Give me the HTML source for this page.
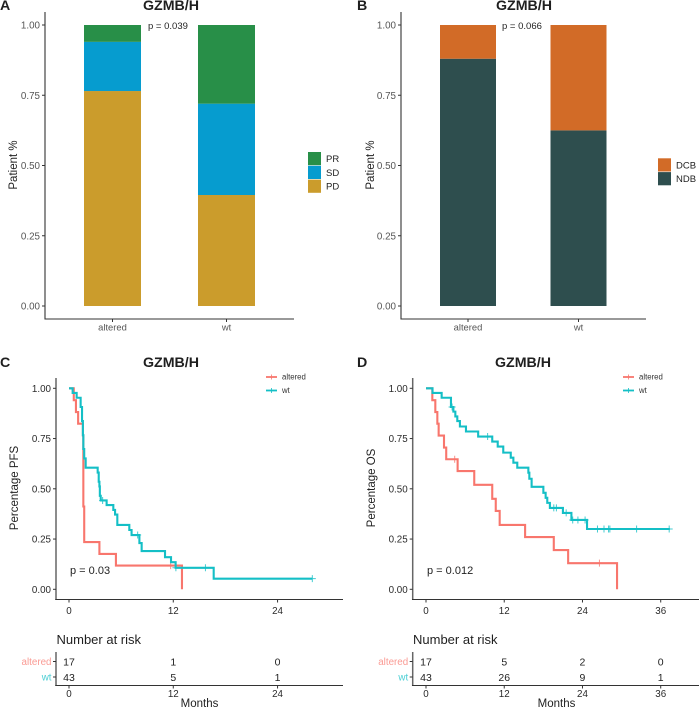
<!DOCTYPE html>
<html>
<head>
<meta charset="utf-8">
<style>
html,body{margin:0;padding:0;background:#fff;width:700px;height:709px;overflow:hidden}
svg{display:block}
text{font-family:"Liberation Sans",sans-serif}
</style>
</head>
<body>
<svg id="fig" xmlns="http://www.w3.org/2000/svg" width="700" height="709" viewBox="0 0 700 709">
  <g font-weight="bold" font-size="14.2" fill="#1f1f1f">
    <text x="0" y="10">A</text>
    <text x="357" y="10">B</text>
    <text x="0" y="367">C</text>
    <text x="357" y="367">D</text>
    <text x="171" y="10" text-anchor="middle">GZMB/H</text>
    <text x="524" y="10" text-anchor="middle">GZMB/H</text>
    <text x="171" y="367" text-anchor="middle">GZMB/H</text>
    <text x="523" y="367" text-anchor="middle">GZMB/H</text>
  </g>
  <g font-size="11.5" fill="#1f1f1f">
    <text transform="translate(17,165) rotate(-90)" text-anchor="middle">Patient %</text>
    <text transform="translate(374,165) rotate(-90)" text-anchor="middle">Patient %</text>
    <text transform="translate(18,488) rotate(-90)" text-anchor="middle">Percentage PFS</text>
    <text transform="translate(375,488) rotate(-90)" text-anchor="middle">Percentage OS</text>
    <text x="199.5" y="707" text-anchor="middle">Months</text>
    <text x="556.5" y="707" text-anchor="middle">Months</text>
  </g>
  <g fill="#1f1f1f">
    <text x="148" y="29" font-size="9.5">p = 0.039</text>
    <text x="502" y="29" font-size="9.5">p = 0.066</text>
    <text x="70" y="574" font-size="11">p = 0.03</text>
    <text x="427" y="574" font-size="11">p = 0.012</text>
    <text x="56.5" y="644" font-size="13">Number at risk</text>
    <text x="413" y="644" font-size="13">Number at risk</text>
  </g>
</svg>
<script>
/* Panel A: stacked proportions */
const aCategories = ["altered", "wt"];
const aPD = [0.765, 0.395];
const aSD = [0.175, 0.325];
const aPR = [0.06, 0.28];
/* Panel B */
const bCategories = ["altered", "wt"];
const bNDB = [0.88, 0.625];
const bDCB = [0.12, 0.375];
const barTicks = [0, 0.25, 0.5, 0.75, 1];
const survTicks = [0, 0.25, 0.5, 0.75, 1];

/* Panel C: Kaplan-Meier PFS */
const cAlteredTimes = [0.55, 0.8, 1.05, 1.6, 1.65, 1.75, 3.5, 5.4, 13];
const cAlteredSurv = [0.941, 0.882, 0.824, 0.765, 0.412, 0.235, 0.176, 0.118, 0];
const cAlteredCensor = [11.7];
const cWtTimes = [0.42, 0.88, 1.34, 1.5, 1.6, 1.65, 1.75, 1.92, 3.3, 3.42, 3.5, 3.55, 3.65, 4.33, 5.1, 5.3, 5.56, 6.94, 7.2, 8.1, 8.36, 11.05, 11.74, 12.27, 16.65, 28];
const cWtSurv = [0.977, 0.953, 0.907, 0.837, 0.767, 0.698, 0.651, 0.605, 0.581, 0.535, 0.512, 0.465, 0.442, 0.419, 0.395, 0.372, 0.32, 0.295, 0.27, 0.23, 0.19, 0.16, 0.135, 0.107, 0.053, 0.053];
const cWtCensor = [3.87, 7.9, 12.3, 15.7, 28];
const cTicks = [0, 12, 24];
const cRiskAltered = [17, 1, 0];
const cRiskWt = [43, 5, 1];

/* Panel D: Kaplan-Meier OS */
const dAlteredTimes = [0.97, 1.43, 1.74, 1.94, 2.76, 3.1, 4.85, 7.4, 10.16, 10.7, 11.3, 15.2, 19.6, 21.8, 29.3];
const dAlteredSurv = [0.941, 0.882, 0.824, 0.765, 0.705, 0.647, 0.588, 0.52, 0.45, 0.39, 0.32, 0.26, 0.195, 0.13, 0];
const dAlteredCensor = [4.4, 26.6];
const dWtTimes = [1, 2.4, 3.83, 4.2, 4.5, 4.8, 5.2, 6.13, 8, 10.16, 11, 11.85, 13, 13.4, 14, 15.7, 15.85, 16.2, 18, 18.35, 18.6, 19, 21, 22.3, 24.7, 37.4];
const dWtSurv = [0.977, 0.953, 0.907, 0.884, 0.86, 0.837, 0.81, 0.785, 0.76, 0.735, 0.71, 0.68, 0.655, 0.63, 0.605, 0.58, 0.55, 0.51, 0.48, 0.455, 0.43, 0.405, 0.38, 0.345, 0.30, 0.30];
const dWtCensor = [4, 9.45, 19.6, 20, 21.5, 22.5, 23.3, 24.4, 26.3, 27.3, 28, 28.2, 32.3, 37.3];
const dTicks = [0, 12, 24, 36];
const dRiskAltered = [17, 5, 2, 0];
const dRiskWt = [43, 26, 9, 1];

const riskGroups = ["altered", "wt"];

const svg = document.getElementById('fig');
const NS = 'http://www.w3.org/2000/svg';
const RED = '#F8766D', TEAL = '#14BFC6';
const GREEN = '#288F48', BLUE = '#069CCF', GOLD = '#CB9C2C', ORANGE = '#D26B27', SLATE = '#2E4E4E';

function mk(tag, attrs, content) {
  const el = document.createElementNS(NS, tag);
  for (const k in attrs) el.setAttribute(k, attrs[k]);
  if (content !== undefined) el.textContent = content;
  svg.appendChild(el);
  return el;
}
function name(el, n) {
  
  
  return el;
}
function line(x1, y1, x2, y2, stroke, w) {
  return mk('line', {x1: x1, y1: y1, x2: x2, y2: y2, stroke: stroke, 'stroke-width': w});
}

/* ---------- bar panels ---------- */
function barPanel(o) {
  const yS = v => 306 - 281 * v;
  const xS = i => o.x0 + o.step * i;
  const cats = o.categories;
  cats.forEach((c, i) => {
    let base = 0;
    o.series.forEach(s => {
      const v = s.values[i];
      const r = mk('rect', {x: xS(i) - o.width / 2, y: yS(base + v), width: o.width, height: yS(base) - yS(base + v), fill: s.color});
      name(r, 'bar-' + o.id + '-' + c + '-' + s.key);
      base += v;
    });
  });
  name(line(o.axisX, 12, o.axisX, 319.5, '#333', 1.1), 'y-axis-line-' + o.id);
  name(line(o.axisX, 319, o.axisR, 319, '#333', 1.1), 'x-axis-line-' + o.id);
  barTicks.forEach(t => {
    name(line(o.axisX - 3, yS(t), o.axisX, yS(t), '#333', 1), 'y-tick-' + o.id);
    const lab = mk('text', {x: o.axisX - 5, y: yS(t) + 3.5, 'text-anchor': 'end', 'font-size': 9.8, fill: '#555'}, t.toFixed(2));
    name(lab, 'y-tick-label-' + o.id);
  });
  cats.forEach((c, i) => {
    name(line(xS(i), 319, xS(i), 322, '#333', 1), 'x-tick-' + o.id);
    const lab = mk('text', {x: xS(i), y: 330.7, 'text-anchor': 'middle', 'font-size': 9.4, fill: '#555'}, c);
    name(lab, 'x-tick-label-' + o.id);
  });
  o.legend.forEach((l, i) => {
    const ly = o.legendY + i * 13.8;
    name(mk('rect', {x: o.legendX, y: ly, width: 13, height: 13.2, fill: l.color}), 'legend-swatch-' + l.key);
    name(mk('text', {x: o.legendX + 18, y: ly + 10, 'font-size': 9.5, fill: '#1f1f1f'}, l.key), 'legend-label-' + l.key);
  });
}
barPanel({
  id: 'a', categories: aCategories, x0: 112.5, step: 114, width: 57, axisX: 45, axisR: 294,
  series: [{key: 'pd', values: aPD, color: GOLD}, {key: 'sd', values: aSD, color: BLUE}, {key: 'pr', values: aPR, color: GREEN}],
  legend: [{key: 'PR', color: GREEN}, {key: 'SD', color: BLUE}, {key: 'PD', color: GOLD}],
  legendX: 308, legendY: 152
});
barPanel({
  id: 'b', categories: bCategories, x0: 468, step: 110.5, width: 56, axisX: 401, axisR: 646,
  series: [{key: 'ndb', values: bNDB, color: SLATE}, {key: 'dcb', values: bDCB, color: ORANGE}],
  legend: [{key: 'DCB', color: ORANGE}, {key: 'NDB', color: SLATE}],
  legendX: 658, legendY: 158.3
});

/* ---------- survival panels ---------- */
function stepAt(times, surv, t) {
  let s = 1;
  for (let i = 0; i < times.length; i++) { if (times[i] <= t) s = surv[i]; }
  return s;
}
function survPanel(o) {
  const xS = t => o.x0 + o.pxPerMonth * t;
  const yS = v => 589.3 - 201 * v;
  o.curves.forEach(c => {
    let d = 'M' + xS(0) + ' ' + yS(1);
    c.times.forEach((t, i) => {
      d += ' H' + xS(t).toFixed(2) + ' V' + yS(c.surv[i]).toFixed(2);
    });
    name(mk('path', {d: d, fill: 'none', stroke: c.color, 'stroke-width': 2.1}), 'km-curve-' + o.id + '-' + c.key);
    c.censor.forEach(t => {
      const cx = xS(t), cy = yS(stepAt(c.times, c.surv, t));
      const m = mk('path', {d: 'M' + (cx - 3.5) + ' ' + cy + ' H' + (cx + 3.5) + ' M' + cx + ' ' + (cy - 3.5) + ' V' + (cy + 3.5), stroke: c.color, 'stroke-width': 1, 'stroke-opacity': 0.8, fill: 'none'});
      name(m, 'censor-mark-' + o.id + '-' + c.key);
    });
  });
  name(line(o.axisX, 378, o.axisX, 600, '#666', 1.5), 'y-axis-line-' + o.id);
  name(line(o.axisX - 0.7, 599.5, o.axisR, 599.5, '#333', 1.1), 'x-axis-line-' + o.id);
  survTicks.forEach(t => {
    name(line(o.axisX - 3, yS(t), o.axisX, yS(t), '#333', 1), 'y-tick-' + o.id);
    name(mk('text', {x: o.axisX - 5, y: yS(t) + 3.6, 'text-anchor': 'end', 'font-size': 9.8, fill: '#2a2a2a'}, t.toFixed(2)), 'y-tick-label-' + o.id);
  });
  o.ticks.forEach(t => {
    name(line(xS(t), 599.5, xS(t), 602.5, '#333', 1), 'x-tick-' + o.id);
    name(mk('text', {x: xS(t), y: 614, 'text-anchor': 'middle', 'font-size': 9.8, fill: '#2a2a2a'}, t), 'x-tick-label-' + o.id);
  });
  /* legend */
  [{k: riskGroups[0], c: RED, y: 377}, {k: riskGroups[1], c: TEAL, y: 390.5}].forEach(l => {
    name(line(o.legendX, l.y, o.legendX + 11, l.y, l.c, 1.8), 'legend-key-' + o.id + '-' + l.k);
    name(line(o.legendX + 5.5, l.y - 2.5, o.legendX + 5.5, l.y + 2.5, l.c, 0.8), 'legend-censor-' + o.id + '-' + l.k);
    name(mk('text', {x: o.legendX + 16, y: l.y + 2.6, 'font-size': 7.8, fill: '#333'}, l.k), 'legend-label-' + o.id + '-' + l.k);
  });
  /* risk table */
  name(line(o.axisX, 652, o.axisX, 686, '#666', 1.5), 'risk-y-axis-' + o.id);
  name(line(o.axisX - 0.7, 685.5, o.axisR, 685.5, '#333', 1.1), 'risk-x-axis-' + o.id);
  [{k: riskGroups[0], c: '#FA9A93', y: 661.5, vals: o.riskAltered}, {k: riskGroups[1], c: '#4CCFD4', y: 677, vals: o.riskWt}].forEach(r => {
    name(line(o.axisX - 3, r.y, o.axisX, r.y, '#333', 1), 'risk-y-tick-' + o.id);
    name(mk('text', {x: o.axisX - 4.5, y: r.y + 3.5, 'text-anchor': 'end', 'font-size': 9.8, fill: r.c}, r.k), 'risk-row-label-' + o.id + '-' + r.k);
    r.vals.forEach((v, i) => {
      name(mk('text', {x: xS(o.ticks[i]), y: r.y + 3.8, 'text-anchor': 'middle', 'font-size': 10.5, fill: '#222'}, v), 'risk-count-' + o.id + '-' + r.k);
    });
  });
  o.ticks.forEach(t => {
    name(line(xS(t), 685.5, xS(t), 688.5, '#333', 1), 'risk-x-tick-' + o.id);
    name(mk('text', {x: xS(t), y: 697, 'text-anchor': 'middle', 'font-size': 9.8, fill: '#2a2a2a'}, t), 'risk-x-tick-label-' + o.id);
  });
}
survPanel({
  id: 'c', x0: 69, pxPerMonth: 8.69, axisX: 56, axisR: 343, legendX: 266, ticks: cTicks,
  riskAltered: cRiskAltered, riskWt: cRiskWt,
  curves: [
    {key: 'altered', color: RED, times: cAlteredTimes, surv: cAlteredSurv, censor: cAlteredCensor},
    {key: 'wt', color: TEAL, times: cWtTimes, surv: cWtSurv, censor: cWtCensor}
  ]
});
survPanel({
  id: 'd', x0: 426, pxPerMonth: 6.52, axisX: 412.7, axisR: 699, legendX: 623, ticks: dTicks,
  riskAltered: dRiskAltered, riskWt: dRiskWt,
  curves: [
    {key: 'altered', color: RED, times: dAlteredTimes, surv: dAlteredSurv, censor: dAlteredCensor},
    {key: 'wt', color: TEAL, times: dWtTimes, surv: dWtSurv, censor: dWtCensor}
  ]
});
</script>
</body>
</html>
